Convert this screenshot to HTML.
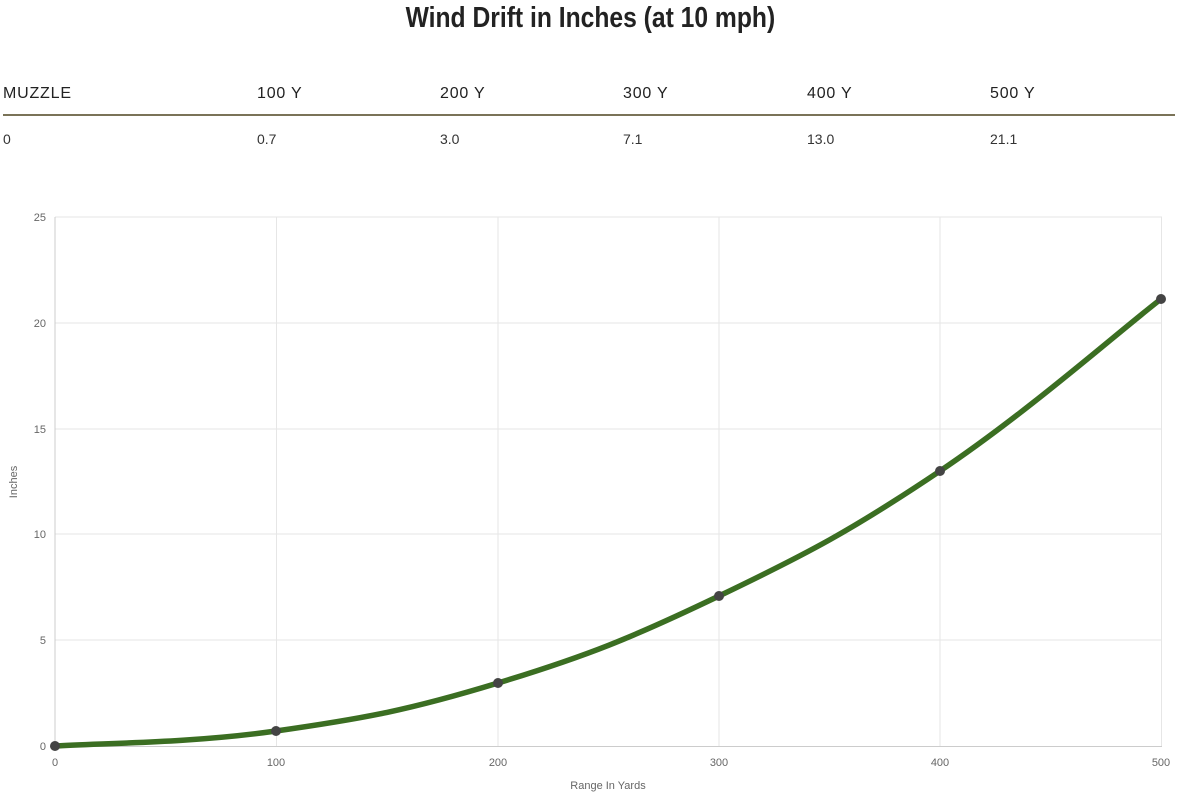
<!DOCTYPE html>
<html><head><meta charset="utf-8"><style>
body{margin:0;width:1180px;height:794px;background:#fff;overflow:hidden;font-family:"Liberation Sans",sans-serif;}
.t{position:absolute;top:1px;left:0;width:1180px;text-align:center;font-family:"Liberation Sans Narrow","Liberation Sans",sans-serif;font-weight:bold;font-size:29px;color:#222;line-height:34px;}
.h,.v{position:absolute;color:#222;}
.h{top:85px;font-size:16px;letter-spacing:0.8px;}
.v{top:131px;font-size:14px;color:#333;}
.ln{position:absolute;left:3px;top:114px;width:1172px;height:2px;background:#7a7358;}
svg{position:absolute;left:0;top:0;}
</style></head><body>
<div class="t"><span style="display:inline-block;transform:scaleX(0.85)">Wind Drift in Inches (at 10 mph)</span></div>
<div class="h" style="left:3px">MUZZLE</div>
<div class="h" style="left:257px">100 Y</div>
<div class="h" style="left:440px">200 Y</div>
<div class="h" style="left:623px">300 Y</div>
<div class="h" style="left:807px">400 Y</div>
<div class="h" style="left:990px">500 Y</div>
<div class="ln"></div>
<div class="v" style="left:3px">0</div>
<div class="v" style="left:257px">0.7</div>
<div class="v" style="left:440px">3.0</div>
<div class="v" style="left:623px">7.1</div>
<div class="v" style="left:807px">13.0</div>
<div class="v" style="left:990px">21.1</div>
<svg width="1180" height="794" font-family="Liberation Sans, sans-serif" font-size="11" fill="#666">
<g stroke="#e6e6e6" stroke-width="1">
<line x1="55" y1="217" x2="1162" y2="217"/><line x1="55" y1="323" x2="1162" y2="323"/>
<line x1="55" y1="429" x2="1162" y2="429"/><line x1="55" y1="534" x2="1162" y2="534"/>
<line x1="55" y1="640" x2="1162" y2="640"/>
<line x1="276.5" y1="217" x2="276.5" y2="746"/><line x1="498" y1="217" x2="498" y2="746"/>
<line x1="719" y1="217" x2="719" y2="746"/><line x1="940" y1="217" x2="940" y2="746"/>
<line x1="1161.5" y1="217" x2="1161.5" y2="746"/>
</g>
<line x1="55" y1="217" x2="55" y2="751" stroke="#ccc"/>
<line x1="50" y1="746.5" x2="1162" y2="746.5" stroke="#ccc"/>
<g text-anchor="end">
<text x="46" y="221">25</text><text x="46" y="327">20</text><text x="46" y="433">15</text>
<text x="46" y="538">10</text><text x="46" y="644">5</text><text x="46" y="750">0</text>
</g>
<g text-anchor="middle">
<text x="55" y="766">0</text><text x="276" y="766">100</text><text x="498" y="766">200</text>
<text x="719" y="766">300</text><text x="940" y="766">400</text><text x="1161" y="766">500</text>
<text x="608" y="789">Range In Yards</text>
<text transform="translate(17,482) rotate(-90)">Inches</text>
</g>
<path d="M55,746 C99,743 187.4,743.6 276,731 C364.6,718.4 409.4,710 498,683 C586.6,656 630.6,638.4 719,596 C807.4,553.6 851.6,530.4 940,471 C1028.4,411.6 1117,333 1161,299" fill="none" stroke="#3b6e22" stroke-width="5.5" stroke-linecap="round"/>
<g fill="#444">
<circle cx="55" cy="746" r="5"/><circle cx="276" cy="731" r="5"/><circle cx="498" cy="683" r="5"/>
<circle cx="719" cy="596" r="5"/><circle cx="940" cy="471" r="5"/><circle cx="1161" cy="299" r="5"/>
</g>
</svg>
</body></html>
